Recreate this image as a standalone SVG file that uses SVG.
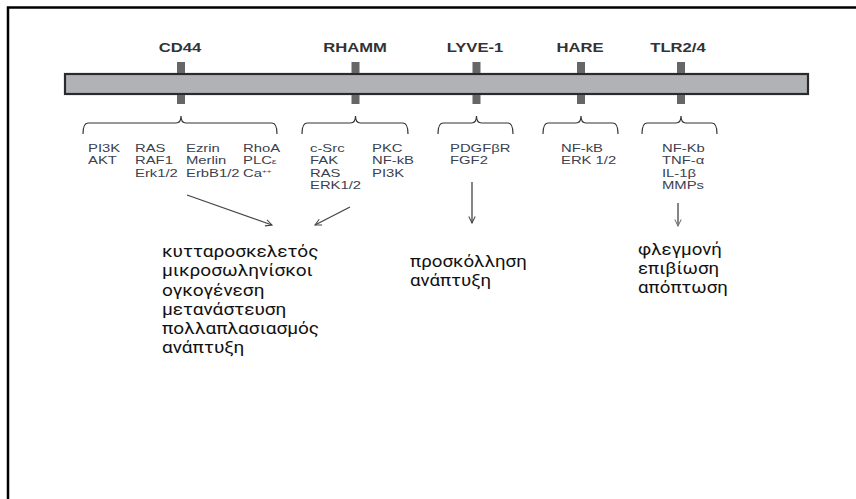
<svg xmlns="http://www.w3.org/2000/svg" width="856" height="499" viewBox="0 0 856 499">
<style>
.hd{font-family:"Liberation Sans",Arial,sans-serif;font-weight:bold;font-size:13px;fill:#333;text-anchor:middle}
.sm{font-family:"Liberation Sans",Arial,sans-serif;font-size:11px;fill:#3b3f4f}
.gr{font-family:Roboto,"Open Sans",sans-serif;font-size:16px;fill:#111}
.tick{fill:#666}
.brace{fill:none;stroke:#333;stroke-width:1.2}
.arr{stroke:#444;stroke-width:1.3;fill:none}
</style>
<defs>
<marker id="ah" viewBox="0 0 10 10" refX="9" refY="5" markerWidth="8" markerHeight="8" orient="auto" markerUnits="userSpaceOnUse">
<path d="M1,1 L9,5 L1,9" fill="none" stroke="#444" stroke-width="1.3"/>
</marker>
<marker id="ah2" viewBox="0 0 10 10" refX="9" refY="5" markerWidth="8" markerHeight="8" orient="auto" markerUnits="userSpaceOnUse">
<path d="M1,1 L9,5 L1,9" fill="none" stroke="#777" stroke-width="1.3"/>
</marker>
</defs>
<rect width="856" height="499" fill="#fff"/>
<path d="M8,520 V7.5 H860" fill="none" stroke="#000" stroke-width="2.5"/>
<g id="membrane">
<rect x="65" y="74" width="743" height="20" fill="#b1b2b5" stroke="#2a2a2a" stroke-width="2.2"/>
</g>
<g id="cd44">
<rect class="tick" x="177" y="62" width="8" height="11"/>
<rect class="tick" x="177" y="95" width="8" height="9"/>
<text class="hd" transform="translate(180,52) scale(1.28,1)">CD44</text>
<path class="brace" d="M83,134 Q83,123 88,123 H176 Q181,123 181,116 Q181,123 186,123 H272 Q277,123 277,134"/>
<text class="sm" transform="translate(88,152) scale(1.35,1)">PI3K</text>
<text class="sm" transform="translate(88,164.3) scale(1.35,1)">AKT</text>
<text class="sm" transform="translate(135,152) scale(1.35,1)">RAS</text>
<text class="sm" transform="translate(135,164.3) scale(1.35,1)">RAF1</text>
<text class="sm" transform="translate(135,176.6) scale(1.35,1)">Erk1/2</text>
<text class="sm" transform="translate(186,152) scale(1.35,1)">Ezrin</text>
<text class="sm" transform="translate(186,164.3) scale(1.35,1)">Merlin</text>
<text class="sm" transform="translate(186,176.6) scale(1.35,1)">ErbB1/2</text>
<text class="sm" transform="translate(243,152) scale(1.35,1)">RhoA</text>
<text class="sm" transform="translate(243,164.3) scale(1.35,1)">PLC<tspan font-size="8">ε</tspan></text>
<text class="sm" transform="translate(243,176.6) scale(1.35,1)">Ca<tspan font-size="6" dy="-4">++</tspan></text>
</g>
<g id="rhamm">
<rect class="tick" x="351.5" y="62" width="8" height="11"/>
<rect class="tick" x="351.5" y="95" width="8" height="9"/>
<text class="hd" transform="translate(355,52) scale(1.28,1)">RHAMM</text>
<path class="brace" d="M302,134 Q302,123 307,123 H350.5 Q355.5,123 355.5,116 Q355.5,123 360.5,123 H403 Q408,123 408,134"/>
<text class="sm" transform="translate(310,152) scale(1.35,1)">c-Src</text>
<text class="sm" transform="translate(310,164.3) scale(1.35,1)">FAK</text>
<text class="sm" transform="translate(310,176.6) scale(1.35,1)">RAS</text>
<text class="sm" transform="translate(310,189) scale(1.35,1)">ERK1/2</text>
<text class="sm" transform="translate(372,152) scale(1.35,1)">PKC</text>
<text class="sm" transform="translate(372,164.3) scale(1.35,1)">NF-kB</text>
<text class="sm" transform="translate(372,176.6) scale(1.35,1)">PI3K</text>
</g>
<g id="lyve1">
<rect class="tick" x="472.5" y="62" width="8" height="11"/>
<rect class="tick" x="472.5" y="95" width="8" height="9"/>
<text class="hd" transform="translate(475,52) scale(1.28,1)">LYVE-1</text>
<path class="brace" d="M438,134 Q438,123 443,123 H471.5 Q476.5,123 476.5,116 Q476.5,123 481.5,123 H508 Q513,123 513,134"/>
<text class="sm" transform="translate(450,152) scale(1.35,1)">PDGFβR</text>
<text class="sm" transform="translate(450,164.3) scale(1.35,1)">FGF2</text>
</g>
<g id="hare">
<rect class="tick" x="577" y="62" width="8" height="11"/>
<rect class="tick" x="577" y="95" width="8" height="9"/>
<text class="hd" transform="translate(580,52) scale(1.28,1)">HARE</text>
<path class="brace" d="M543,134 Q543,123 548,123 H576 Q581,123 581,116 Q581,123 586,123 H613 Q618,123 618,134"/>
<text class="sm" transform="translate(561,152) scale(1.35,1)">NF-kB</text>
<text class="sm" transform="translate(561,164.3) scale(1.35,1)">ERK 1/2</text>
</g>
<g id="tlr24">
<rect class="tick" x="677" y="62" width="8" height="11"/>
<rect class="tick" x="677" y="95" width="8" height="9"/>
<text class="hd" transform="translate(678,52) scale(1.28,1)">TLR2/4</text>
<path class="brace" d="M642,134 Q642,123 647,123 H676 Q681,123 681,116 Q681,123 686,123 H712 Q717,123 717,134"/>
<text class="sm" transform="translate(662,152) scale(1.35,1)">NF-Kb</text>
<text class="sm" transform="translate(662,164.3) scale(1.35,1)">TNF-α</text>
<text class="sm" transform="translate(662,176.6) scale(1.35,1)">IL-1β</text>
<text class="sm" transform="translate(662,189) scale(1.35,1)">MMPs</text>
</g>
<g id="connectors">
<line class="arr" x1="187" y1="195" x2="272" y2="225" marker-end="url(#ah)"/>
<line class="arr" x1="350" y1="207" x2="315" y2="225" marker-end="url(#ah)"/>
<line class="arr" x1="472" y1="182" x2="472" y2="223" marker-end="url(#ah)"/>
<line class="arr" x1="678" y1="203" x2="678" y2="226" stroke="#777" marker-end="url(#ah2)"/>
</g>
<g id="outcome-cd44-rhamm" transform="translate(162,0) scale(1.19,1)">
<text class="gr" x="0" y="257">κυτταροσκελετός</text>
<text class="gr" x="0" y="276.5">μικροσωληνίσκοι</text>
<text class="gr" x="0" y="295.8">ογκογένεση</text>
<text class="gr" x="0" y="315">μετανάστευση</text>
<text class="gr" x="0" y="334.3">πολλαπλασιασμός</text>
<text class="gr" x="0" y="353.5">ανάπτυξη</text>
</g>
<g id="outcome-lyve1" transform="translate(410,0) scale(1.17,1)">
<text class="gr" x="0" y="267.3">προσκόλληση</text>
<text class="gr" x="0" y="286.5">ανάπτυξη</text>
</g>
<g id="outcome-tlr" transform="translate(638,0) scale(1.17,1)">
<text class="gr" x="0" y="255">φλεγμονή</text>
<text class="gr" x="0" y="274.2">επιβίωση</text>
<text class="gr" x="0" y="293.4">απόπτωση</text>
</g>
</svg>
